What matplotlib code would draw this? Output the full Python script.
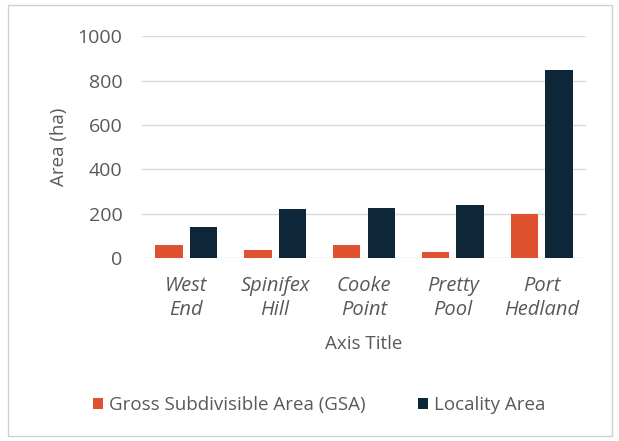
import matplotlib as mpl
mpl.use('Agg')
import matplotlib.pyplot as plt
from matplotlib.patches import Rectangle
import numpy as np

mpl.rcParams['font.family'] = ['Open Sans', 'DejaVu Sans']

localities = ["West\nEnd", "Spinifex\nHill", "Cooke\nPoint", "Pretty\nPool", "Port\nHedland"]
gsa_area = [58, 37, 58, 25, 199]
locality_area = [141, 219, 224, 241, 849]
yticks = [0, 200, 400, 600, 800, 1000]

gsa_color = "#E0522F"
loc_color = "#0E2738"
text_color = "#595959"

fig = plt.figure(figsize=(6.19, 4.41), dpi=100)
ax = fig.add_axes([0.229, 0.415, 0.718, 0.503])

x = np.arange(len(localities))
w = 0.31
ax.bar(x - 0.195, gsa_area, w, color=gsa_color, label="Gross Subdivisible Area (GSA)", zorder=3)
ax.bar(x + 0.195, locality_area, w, color=loc_color, label="Locality Area", zorder=3)

ax.set_xlim(-0.5, len(localities) - 0.5)
ax.set_ylim(0, 1000)
ax.set_yticks(yticks)
ax.set_yticklabels([str(v) for v in yticks], fontsize=14, color=text_color)
ax.set_xticks(x)
ax.set_xticklabels(localities, fontsize=14.5, style='italic', color=text_color, linespacing=1.25)
ax.tick_params(axis='y', length=0, pad=14)
ax.tick_params(axis='x', length=0, pad=13)
ax.grid(axis='y', color='#D9D9D9', linewidth=1, zorder=0)
for s in ax.spines.values():
    s.set_visible(False)

ax.set_ylabel("Area (ha)", fontsize=13.5, color=text_color, labelpad=7)
ax.set_xlabel("Axis Title", fontsize=13.5, color=text_color, labelpad=11)

fig.legend(loc='center', bbox_to_anchor=(0.515, 0.082), ncol=2, frameon=False,
           fontsize=13.5, labelcolor=text_color, handlelength=0.55, handleheight=0.55,
           handletextpad=0.3, columnspacing=2.8)

fig.patches.append(Rectangle((0.013, 0.012), 0.975, 0.976, transform=fig.transFigure,
                             fill=False, edgecolor='#D0D0D0', linewidth=1))

plt.savefig("out.png", dpi=100)
plt.close(fig)
